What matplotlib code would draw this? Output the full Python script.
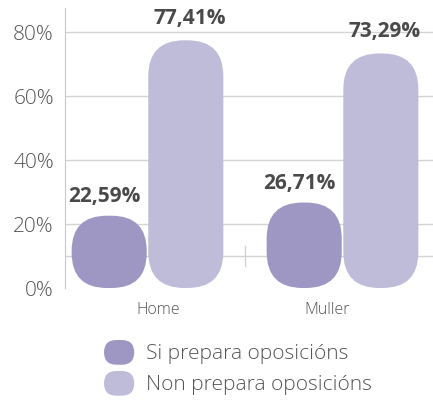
import numpy as np
import matplotlib.pyplot as plt
from matplotlib.patches import FancyBboxPatch, Patch
from matplotlib.legend_handler import HandlerPatch

categories = ["Home", "Muller"]
series = ["Si prepara oposicións", "Non prepara oposicións"]
si_values = [22.59, 26.71]
non_values = [77.41, 73.29]
labels_si = ["22,59%", "26,71%"]
labels_non = ["77,41%", "73,29%"]
yticks = [0, 20, 40, 60, 80]

colors = ['#9e97c3', '#bfbcda']
grid_color = '#d4d4d4'
text_color = '#555555'

plt.rcParams['font.family'] = ['Open Sans', 'DejaVu Sans']

fig = plt.figure(figsize=(4.33, 4.05), dpi=100)
ax = fig.add_axes([65/433, 1 - 288/405, 1 - 65/433, (288 - 8)/405])

x = np.arange(len(categories))
width = 0.385
gap = 0.008
ax.set_xlim(-0.423, 1.464)
ax.set_ylim(0, 87.5)

# px per data unit, used to keep the corners round
x_px = 195.0
y_px = 3.2
radius_px = 36
aspect = x_px / y_px

def round_bar(x0, h, color):
    r = min(radius_px, h * y_px / 2.05) / x_px
    p = FancyBboxPatch((x0, 0), width, h,
                       boxstyle="round,pad=0,rounding_size=%f" % r,
                       mutation_aspect=aspect, fc=color, ec='none', zorder=3)
    ax.add_patch(p)

for i in range(len(categories)):
    round_bar(x[i] - width - gap / 2, si_values[i], colors[0])
    round_bar(x[i] + gap / 2, non_values[i], colors[1])
    ax.annotate(labels_si[i], (x[i] - width / 2 - gap / 2 - 0.025, si_values[i]),
                xytext=(0, 6), textcoords='offset points', ha='center', va='bottom',
                fontsize=15, fontweight='bold', color='#4a4a4a', zorder=4)
    ax.annotate(labels_non[i], (x[i] + width / 2 + gap / 2 + 0.02, non_values[i]),
                xytext=(0, 8), textcoords='offset points', ha='center', va='bottom',
                fontsize=15, fontweight='bold', color='#4a4a4a', zorder=4)

# grid
for t in yticks[1:]:
    ax.axhline(t, color=grid_color, lw=1, zorder=1)
ax.axhline(10, color=grid_color, lw=1, zorder=1)
ax.plot([0.5, 0.5], [7, 13], color=grid_color, lw=1, zorder=1)

ax.set_yticks(yticks)
ax.set_yticklabels([f"{t}%" for t in yticks], fontsize=15, color=text_color,
                   fontweight='light')
ax.tick_params(axis='y', length=0, pad=8)
ax.set_xticks([])
for s in ['top', 'right', 'bottom']:
    ax.spines[s].set_visible(False)
ax.spines['left'].set_color('#c8c8c8')

label_dx = [0.054, -0.079]
for i, c in enumerate(categories):
    ax.text(x[i] + label_dx[i], -4.5, c, ha='center', va='top', fontsize=11.5,
            color=text_color, fontweight='light')


class RoundHandler(HandlerPatch):
    def create_artists(self, legend, orig_handle, xdescent, ydescent,
                       width, height, fontsize, trans):
        p = FancyBboxPatch((-xdescent, -ydescent), width, height,
                           boxstyle="round,pad=0,rounding_size=9",
                           fc=orig_handle.get_facecolor(), ec='none',
                           transform=trans)
        return [p]


handles = [Patch(color=c) for c in colors]
fig.legend(handles, series, loc='upper left', bbox_to_anchor=(104/433, 1 - 340/405),
           frameon=False, borderpad=0, borderaxespad=0,
           handlelength=1.45, handleheight=1.45, handletextpad=0.55,
           labelspacing=0.3, labelcolor=text_color,
           handler_map={Patch: RoundHandler()},
           prop={'weight': 'light', 'size': 15})

fig.savefig('out.png', dpi=100)
